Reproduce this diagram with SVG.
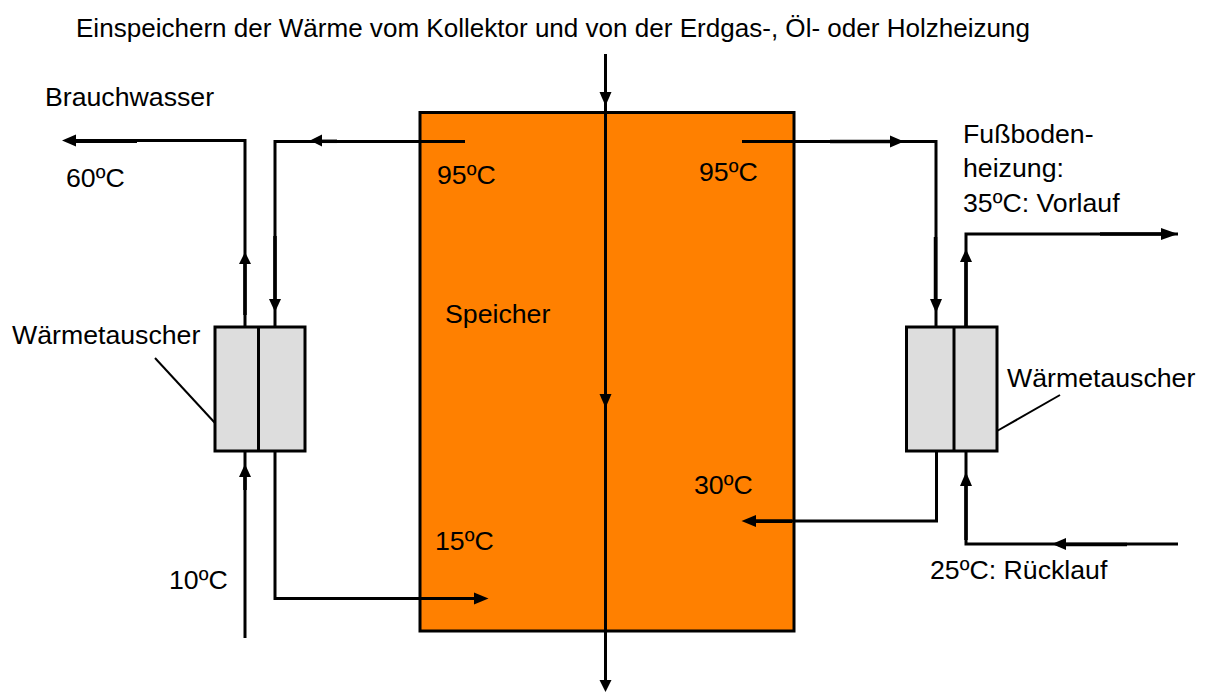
<svg xmlns="http://www.w3.org/2000/svg" width="1210" height="693" viewBox="0 0 1210 693">
<style>
text{font-family:"Liberation Sans",Arial,sans-serif;font-size:26.7px;fill:#000}
#title{font-size:26.05px}
.box{stroke:#000;stroke-width:3}
.hx{fill:#ddd}
.c{fill:none;stroke:#000;stroke-width:3}
.t{fill:none;stroke:#000;stroke-width:3.5}
.l{fill:none;stroke:#000;stroke-width:2}
.a{fill:#000;stroke:none}
</style>
<rect width="1210" height="693" fill="#fff"/>
<g id="speicher">
<rect class="box" x="420" y="112.500" width="374" height="518.500" fill="#ff8000"/>
</g>
<g id="hx-left">
<rect class="box hx" x="215" y="327" width="90" height="124"/>
<line class="box" x1="258.500" y1="327" x2="258.500" y2="451"/>
</g>
<g id="hx-right">
<rect class="box hx" x="906.500" y="327" width="90.500" height="124"/>
<line class="box" x1="954" y1="327" x2="954" y2="451"/>
</g>
<g id="connectors">
<path class="c" d="M245 327V140.500H66"/>
<path class="c" d="M465 141.500H275V327"/>
<path class="c" d="M742 141.500H936V327"/>
<path class="c" d="M966 327V234H1178"/>
<path class="c" d="M245 638V451"/>
<path class="c" d="M275 451V598.500H480"/>
<path class="c" d="M936.500 451V521H750"/>
<path class="c" d="M1178 544H966V451"/>
<path class="c" d="M605.500 54V685"/>
<path class="l" d="M155 358L215 423"/>
<path class="l" d="M997 431L1060 395"/>
<path class="t" d="M70 141.300H137"/>
<path class="t" d="M318 141.300H337"/>
<path class="t" d="M245 258V315"/>
<path class="t" d="M275 236V305"/>
<path class="t" d="M830 141.500H898"/>
<path class="t" d="M935.500 237V305"/>
<path class="t" d="M966 255V327"/>
<path class="t" d="M1100 234H1170"/>
<path class="t" d="M245 470V490"/>
<path class="t" d="M966 478V540"/>
<path class="t" d="M1058 544.500H1127"/>
<path class="t" d="M750 521.300H792"/>
<path class="a" d="M62 140.500L76 134.500V146.500Z"/>
<path class="a" d="M245 252L239 264H251Z"/>
<path class="a" d="M310 140.500L322 134.500V146.500Z"/>
<path class="a" d="M275 312L269 299H281Z"/>
<path class="a" d="M904 141.500L890 135.500V147.500Z"/>
<path class="a" d="M936 313L930 299H942Z"/>
<path class="a" d="M1178 234L1161 228V240Z"/>
<path class="a" d="M966 249L960 262H972Z"/>
<path class="a" d="M245 464L239 477H251Z"/>
<path class="a" d="M488.500 598.500L474 592.500V604.500Z"/>
<path class="a" d="M741.500 521L756 515V527Z"/>
<path class="a" d="M1052 544L1066 538V550Z"/>
<path class="a" d="M966 472L960 486H972Z"/>
<path class="a" d="M605.500 106L599.500 92H611.500Z"/>
<path class="a" d="M605.500 408L599.500 394H611.500Z"/>
<path class="a" d="M605.500 692L599.500 680H611.500Z"/>
</g>
<g id="labels">
<text id="title" x="76" y="37">Einspeichern der Wärme vom Kollektor und von der Erdgas-, Öl- oder Holzheizung</text>
<text x="45" y="106">Brauchwasser</text>
<text x="66" y="187">60ºC</text>
<text x="437" y="184">95ºC</text>
<text x="699" y="181">95ºC</text>
<text x="445" y="323">Speicher</text>
<text x="12" y="344">Wärmetauscher</text>
<text x="1007" y="387">Wärmetauscher</text>
<text x="963" y="143">Fußboden-</text>
<text x="963" y="177">heizung:</text>
<text x="963" y="212">35ºC: Vorlauf</text>
<text x="694" y="494">30ºC</text>
<text x="435" y="550">15ºC</text>
<text x="169" y="589">10ºC</text>
<text x="930" y="579">25ºC: Rücklauf</text>
</g>
</svg>
